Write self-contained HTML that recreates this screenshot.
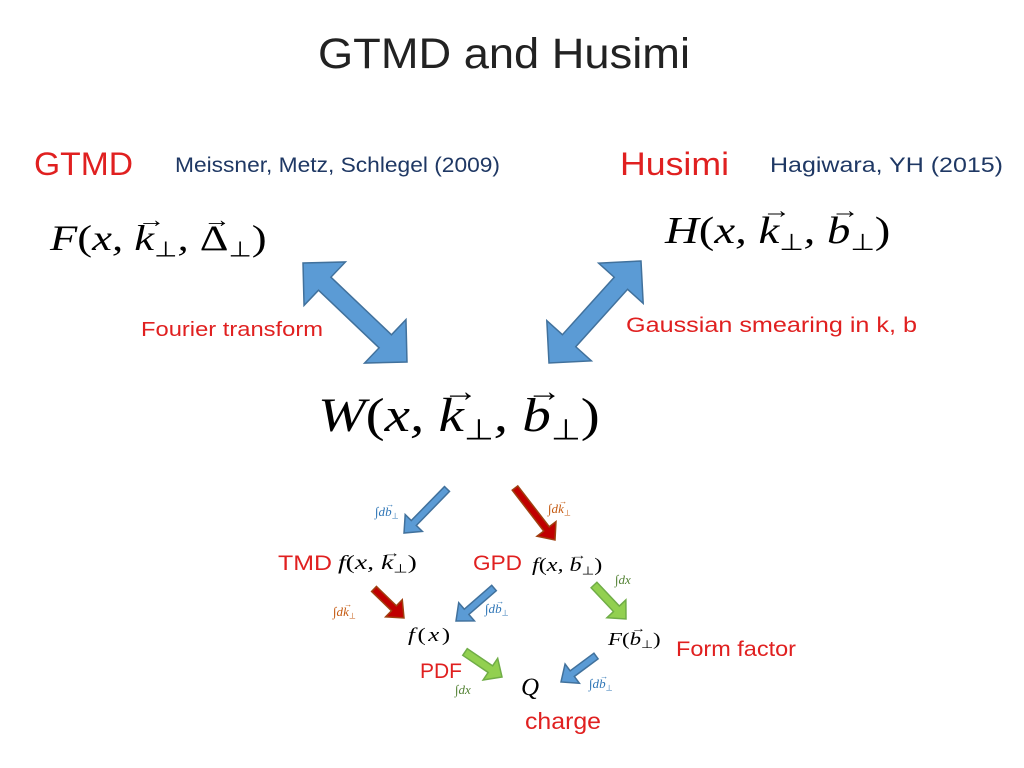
<!DOCTYPE html>
<html><head><meta charset="utf-8"><style>
html,body{margin:0;padding:0;background:#fff;}
#wrap{position:relative;width:1024px;height:768px;overflow:hidden;}
svg{display:block;position:absolute;left:0;top:0;}
.s{font-family:"Liberation Sans",sans-serif;}
.math{position:absolute;font-family:"Liberation Serif",serif;font-style:italic;color:#000;line-height:1;white-space:nowrap;transform-origin:0 0;}
.vec{position:relative;display:inline-block;}
.vec::after{content:"\2192";position:absolute;left:0.12em;top:-0.5em;font-size:0.62em;font-style:normal;}
.math sub{font-size:0.6em;font-style:normal;vertical-align:-0.3em;line-height:0;}
.up{font-style:normal;}
</style></head><body>
<div id="wrap">
<svg width="1024" height="768" viewBox="0 0 1024 768">
<text x="318" y="68" textLength="372" lengthAdjust="spacingAndGlyphs" class="s" font-size="43" fill="#222">GTMD and Husimi</text>
<text x="34" y="175" textLength="99" lengthAdjust="spacingAndGlyphs" class="s" font-size="32" fill="#e02020">GTMD</text>
<text x="175" y="172" textLength="325" lengthAdjust="spacingAndGlyphs" class="s" font-size="21" fill="#1f3864">Meissner, Metz, Schlegel (2009)</text>
<text x="620" y="175" textLength="109" lengthAdjust="spacingAndGlyphs" class="s" font-size="32" fill="#e02020">Husimi</text>
<text x="770" y="172" textLength="233" lengthAdjust="spacingAndGlyphs" class="s" font-size="21" fill="#1f3864">Hagiwara, YH (2015)</text>
<text x="141" y="336" textLength="182" lengthAdjust="spacingAndGlyphs" class="s" font-size="20" fill="#e02020">Fourier transform</text>
<text x="626" y="332" textLength="291" lengthAdjust="spacingAndGlyphs" class="s" font-size="21" fill="#e02020">Gaussian smearing in k, b</text>
<g id="arrows"></g>
<text x="278" y="570" textLength="54" lengthAdjust="spacingAndGlyphs" class="s" font-size="21" fill="#e02020">TMD</text>
<text x="473" y="570" textLength="49" lengthAdjust="spacingAndGlyphs" class="s" font-size="21" fill="#e02020">GPD</text>
<text x="676" y="656" textLength="120" lengthAdjust="spacingAndGlyphs" class="s" font-size="21" fill="#e02020">Form factor</text>
<text x="420" y="678" textLength="42" lengthAdjust="spacingAndGlyphs" class="s" font-size="21" fill="#e02020">PDF</text>
<text x="525" y="729" textLength="76" lengthAdjust="spacingAndGlyphs" class="s" font-size="23" fill="#e02020">charge</text>
</svg>
<div class="math" style="left:50px;top:220px;font-size:36px;transform:scaleX(1.24)">F<span class="up">(</span>x, <span class="vec">k</span><sub>⊥</sub>, <span class="vec up">Δ</span><sub>⊥</sub><span class="up">)</span></div>
<div class="math" style="left:665px;top:212px;font-size:38px;transform:scaleX(1.23)">H<span class="up">(</span>x, <span class="vec">k</span><sub>⊥</sub>, <span class="vec">b</span><sub>⊥</sub><span class="up">)</span></div>
<div class="math" style="left:318px;top:392px;font-size:48px;transform:scaleX(1.19)">W<span class="up">(</span>x, <span class="vec">k</span><sub>⊥</sub>, <span class="vec">b</span><sub>⊥</sub><span class="up">)</span></div>
<div class="math" style="left:338px;top:553px;font-size:20px;transform:scaleX(1.38)">f<span class="up">(</span>x, <span class="vec">k</span><sub>⊥</sub><span class="up">)</span></div>
<div class="math" style="left:532px;top:556px;font-size:19px;transform:scaleX(1.27)">f<span class="up">(</span>x, <span class="vec">b</span><sub>⊥</sub><span class="up">)</span></div>
<div class="math" style="left:408px;top:626px;font-size:19px;letter-spacing:2px;transform:scaleX(1.3)">f<span class="up">(</span>x<span class="up">)</span></div>
<div class="math" style="left:608px;top:630px;font-size:18px;transform:scaleX(1.27)">F<span class="up">(</span><span class="vec">b</span><sub>⊥</sub><span class="up">)</span></div>
<div class="math" style="left:521px;top:675px;font-size:25px">Q</div>
<div class="math" style="left:375px;top:505px;font-size:13px;color:#2e75b6">∫d<span class="vec">b</span><sub>⊥</sub></div>
<div class="math" style="left:548px;top:502px;font-size:13px;color:#c55a11">∫d<span class="vec">k</span><sub>⊥</sub></div>
<div class="math" style="left:333px;top:605px;font-size:13px;color:#c55a11">∫d<span class="vec">k</span><sub>⊥</sub></div>
<div class="math" style="left:485px;top:602px;font-size:13px;color:#2e75b6">∫d<span class="vec">b</span><sub>⊥</sub></div>
<div class="math" style="left:615px;top:573px;font-size:13px;color:#548235">∫dx</div>
<div class="math" style="left:455px;top:683px;font-size:13px;color:#548235">∫dx</div>
<div class="math" style="left:589px;top:677px;font-size:13px;color:#2e75b6">∫d<span class="vec">b</span><sub>⊥</sub></div>
</div>
<script>
const NS='http://www.w3.org/2000/svg';
const g=document.getElementById('arrows');
function arrow(name,x1,y1,x2,y2,w,hw,hl,fill,stroke,dbl){
  const dx=x2-x1,dy=y2-y1,L=Math.hypot(dx,dy),ux=dx/L,uy=dy/L,px=-uy,py=ux;
  const P=(t,o)=>[x1+ux*t+px*o,y1+uy*t+py*o];
  let pts;
  if(dbl){pts=[P(0,0),P(hl,hw),P(hl,w/2),P(L-hl,w/2),P(L-hl,hw),P(L,0),P(L-hl,-hw),P(L-hl,-w/2),P(hl,-w/2),P(hl,-hw)];}
  else{pts=[P(0,w/2),P(L-hl,w/2),P(L-hl,hw),P(L,0),P(L-hl,-hw),P(L-hl,-w/2),P(0,-w/2)];}
  const p=document.createElementNS(NS,'polygon');
  p.setAttribute('points',pts.map(a=>a.join(',')).join(' '));
  p.setAttribute('fill',fill);p.setAttribute('stroke',stroke);p.setAttribute('stroke-width','1.5');
  
  
  g.appendChild(p);
}
const B='#5b9bd5',BS='#41719c',R='#c00000',RS='#a04010',G='#92d050',GS='#70ad47';
arrow('fourier-double-arrow',303,263,407,362,18,30,30,B,BS,true);
arrow('gaussian-double-arrow',641,261,549,363,18,30,30,B,BS,true);
arrow('arrow-w-to-tmd',447,489,404,533,7,12,14,B,BS,false);
arrow('arrow-w-to-gpd',515,488,555,540,7,12,14,R,RS,false);
arrow('arrow-tmd-to-pdf',374,589,404,618,7,12,14,R,RS,false);
arrow('arrow-gpd-to-pdf',494,588,456,621,7,12,14,B,BS,false);
arrow('arrow-gpd-to-formfactor',594,585,626,619,8,13,14,G,GS,false);
arrow('arrow-pdf-to-charge',465,652,502,677,8,13,14,G,GS,false);
arrow('arrow-formfactor-to-charge',596,656,561,682,7,12,14,B,BS,false);
</script>
</body></html>
